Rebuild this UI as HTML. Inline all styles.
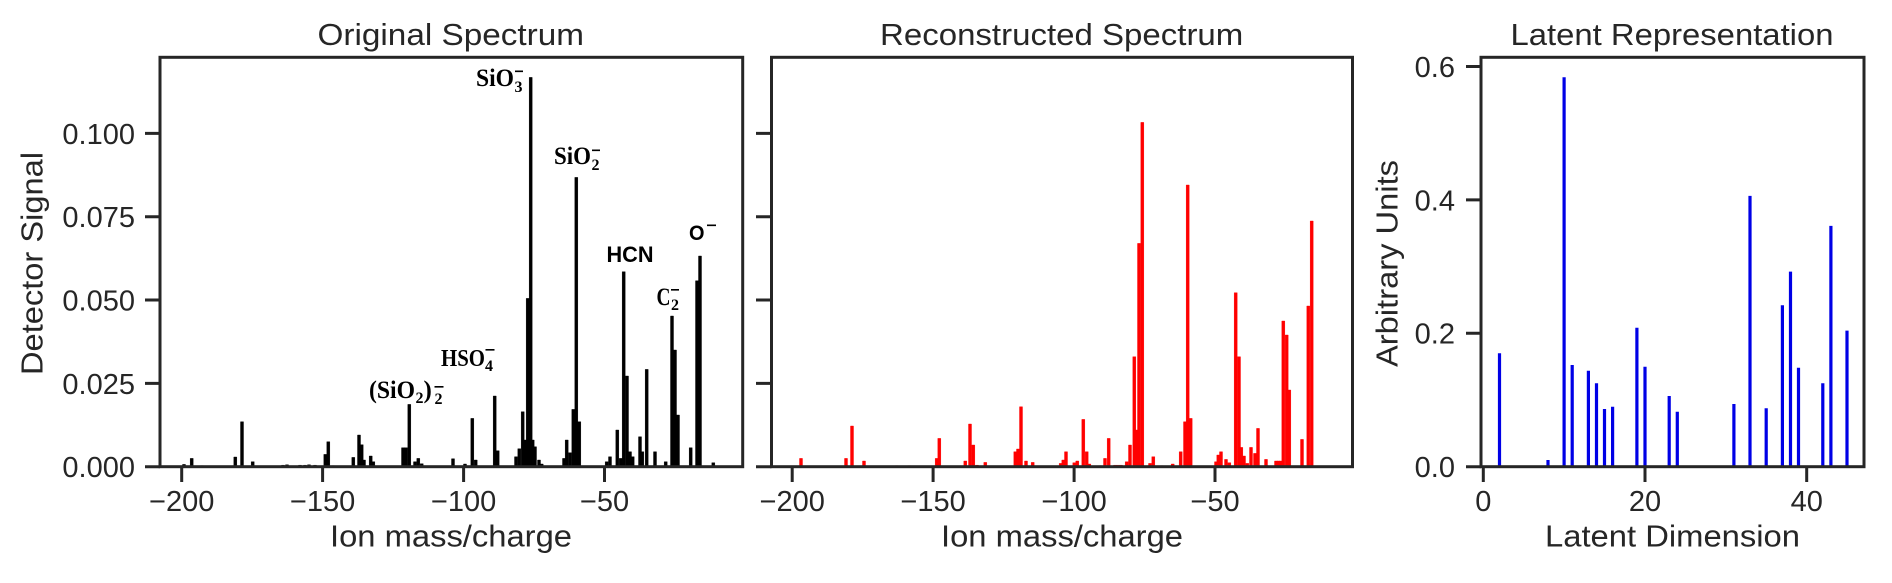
<!DOCTYPE html>
<html>
<head>
<meta charset="utf-8">
<style>
html,body{margin:0;padding:0;background:#fff;}
svg{display:block;}
.t{font-family:"Liberation Sans",Arial,sans-serif;fill:#262626;}
.s{font-family:"Liberation Serif","Times New Roman",serif;font-weight:bold;fill:#000;}
.sb{font-family:"Liberation Sans",Arial,sans-serif;font-weight:bold;fill:#000;}
</style>
</head>
<body>
<svg xmlns="http://www.w3.org/2000/svg" width="1892" height="583" viewBox="0 0 1892 583">
<rect width="1892" height="583" fill="#fff"/>

<path fill="#000" stroke="#000" stroke-width="0.4" d="M182.5 466.7v-2.3h3v2.3z M190.2 466.7v-8.3h3v8.3z M200.5 466.7v-1h3v1z M233.8 466.7v-9.7h3v9.7z M240.5 466.7v-45h3v45z M251.2 466.7v-5h3v5z M281.5 466.7v-1.5h3v1.5z M285.5 466.7v-2h3v2z M298.5 466.7v-1.5h3v1.5z M303.5 466.7v-1.5h3v1.5z M307.5 466.7v-2h3v2z M313.5 466.7v-1.5h3v1.5z M323.8 466.7v-12.3h3v12.3z M326.8 466.7v-25h3v25z M331.5 466.7v-1h3v1z M351.8 466.7v-9.3h3v9.3z M357.5 466.7v-31.7h3v31.7z M360.2 466.7v-22h3v22z M362.5 466.7v-6.7h3v6.7z M369.2 466.7v-10.7h3v10.7z M371.8 466.7v-5h3v5z M401.5 466.7v-19h3v19z M404.5 466.7v-19h3v19z M407.8 466.7v-62.3h3v62.3z M413.5 466.7v-5h3v5z M416.8 466.7v-8.3h3v8.3z M420.2 466.7v-3h3v3z M451.5 466.7v-8h3v8z M463.5 466.7v-2.7h3v2.7z M470.8 466.7v-48.3h3v48.3z M474.2 466.7v-6.7h3v6.7z M493.2 466.7v-70.7h3v70.7z M496.2 466.7v-16h3v16z M514.5 466.7v-10h3v10z M517.8 466.7v-18h3v18z M521.2 466.7v-55h3v55z M523.8 466.7v-26.7h3v26.7z M526.2 466.7v-168.3h3v168.3z M529.2 466.7v-389.3h3v389.3z M531.2 466.7v-26.7h3v26.7z M533.5 466.7v-20h3v20z M537.5 466.7v-6.7h3v6.7z M540.2 466.7v-2.7h3v2.7z M562.5 466.7v-8.3h3v8.3z M565.2 466.7v-26.7h3v26.7z M568.5 466.7v-14h3v14z M571.8 466.7v-57.3h3v57.3z M574.8 466.7v-289.3h3v289.3z M577.8 466.7v-45h3v45z M605.2 466.7v-5h3v5z M608.5 466.7v-10h3v10z M615.8 466.7v-36.7h3v36.7z M619.2 466.7v-8.3h3v8.3z M622.2 466.7v-195h3v195z M625.5 466.7v-90.7h3v90.7z M628.5 466.7v-15h3v15z M631.2 466.7v-10h3v10z M638.5 466.7v-30h3v30z M640.8 466.7v-15h3v15z M645.2 466.7v-97.3h3v97.3z M653.5 466.7v-15h3v15z M664.2 466.7v-5h3v5z M670.5 466.7v-150.7h3v150.7z M673.5 466.7v-116.7h3v116.7z M676.5 466.7v-51.7h3v51.7z M689.2 466.7v-19h3v19z M695.5 466.7v-186h3v186z M698.5 466.7v-210.7h3v210.7z M711.8 466.7v-4h3v4z"/>

<path fill="#ff0000" stroke="#ff0000" stroke-width="0.4" d="M799.5 466.7v-8.3h3v8.3z M844.5 466.7v-8.3h3v8.3z M850.5 466.7v-40.7h3v40.7z M862.5 466.7v-5.7h3v5.7z M895.2 466.7v-1h3v1z M907.8 466.7v-1h3v1z M935.2 466.7v-8.3h3v8.3z M937.8 466.7v-28.3h3v28.3z M963.8 466.7v-5.7h3v5.7z M968.5 466.7v-42.7h3v42.7z M971.8 466.7v-21.7h3v21.7z M975.5 466.7v-1.5h3v1.5z M983.8 466.7v-4.3h3v4.3z M1013.8 466.7v-15h3v15z M1016.5 466.7v-17.7h3v17.7z M1019.5 466.7v-60h3v60z M1024.5 466.7v-5.7h3v5.7z M1031.2 466.7v-4.3h3v4.3z M1059.2 466.7v-3.3h3v3.3z M1061.8 466.7v-6.7h3v6.7z M1064.5 466.7v-15h3v15z M1072.8 466.7v-4h3v4z M1075.8 466.7v-5.7h3v5.7z M1081.8 466.7v-47.3h3v47.3z M1085.2 466.7v-15h3v15z M1087.8 466.7v-2.7h3v2.7z M1098.5 466.7v-1h3v1z M1103.5 466.7v-8.3h3v8.3z M1107.2 466.7v-28.3h3v28.3z M1113.5 466.7v-1.5h3v1.5z M1116.5 466.7v-1.5h3v1.5z M1119.5 466.7v-1.5h3v1.5z M1125.2 466.7v-5h3v5z M1128.5 466.7v-21.7h3v21.7z M1132.8 466.7v-110h3v110z M1135.2 466.7v-36.7h3v36.7z M1137.5 466.7v-223.3h3v223.3z M1140.8 466.7v-344.3h3v344.3z M1148.5 466.7v-3.3h3v3.3z M1151.8 466.7v-10h3v10z M1160.2 466.7v-1h3v1z M1171.2 466.7v-2.7h3v2.7z M1179.2 466.7v-15h3v15z M1183.5 466.7v-45h3v45z M1186.2 466.7v-281.7h3v281.7z M1189.2 466.7v-48.3h3v48.3z M1214.5 466.7v-5h3v5z M1216.8 466.7v-11.7h3v11.7z M1219.5 466.7v-15h3v15z M1224.5 466.7v-7.3h3v7.3z M1227.8 466.7v-4h3v4z M1234.2 466.7v-174h3v174z M1237.5 466.7v-110h3v110z M1239.8 466.7v-19.3h3v19.3z M1242.5 466.7v-10.7h3v10.7z M1245.8 466.7v-3.3h3v3.3z M1249.5 466.7v-19.3h3v19.3z M1253.5 466.7v-13.3h3v13.3z M1256.5 466.7v-38.3h3v38.3z M1264.5 466.7v-7.3h3v7.3z M1274.5 466.7v-5.7h3v5.7z M1277 466.7v-5.7h3v5.7z M1279.5 466.7v-5.7h3v5.7z M1281.8 466.7v-145.7h3v145.7z M1285.2 466.7v-131.7h3v131.7z M1287.8 466.7v-76.7h3v76.7z M1300.5 466.7v-27.3h3v27.3z M1306.8 466.7v-160.7h3v160.7z M1310.2 466.7v-245.7h3v245.7z"/>

<path fill="#0000e6" d="M1497.9 466.7v-113.4h3.2v113.4z M1546.4 466.7v-6.7h3.2v6.7z M1562.5 466.7v-389.5h3.2v389.5z M1570.6 466.7v-101.7h3.2v101.7z M1586.8 466.7v-96h3.2v96z M1594.9 466.7v-83.4h3.2v83.4z M1602.9 466.7v-57.7h3.2v57.7z M1611 466.7v-60h3.2v60z M1635.3 466.7v-139h3.2v139z M1643.4 466.7v-100h3.2v100z M1667.6 466.7v-70.7h3.2v70.7z M1675.7 466.7v-55h3.2v55z M1732.3 466.7v-62.7h3.2v62.7z M1748.4 466.7v-270.8h3.2v270.8z M1764.6 466.7v-58.4h3.2v58.4z M1780.8 466.7v-161.4h3.2v161.4z M1788.9 466.7v-195.1h3.2v195.1z M1796.9 466.7v-99h3.2v99z M1821.2 466.7v-83.4h3.2v83.4z M1829.3 466.7v-240.8h3.2v240.8z M1845.4 466.7v-136.1h3.2v136.1z"/>

<g fill="none" stroke="#262626" stroke-width="3">
<rect x="160" y="57.3" width="582.7" height="409.4"/>
<rect x="771.5" y="57.3" width="581" height="409.4"/>
<rect x="1481" y="57.3" width="383" height="409.4"/>
</g>

<path fill="none" stroke="#262626" stroke-width="3" d="M145 466.7h15 M145 383.4h15 M145 300h15 M145 216.7h15 M145 133.4h15 M181.7 466.7v15.3 M322.6 466.7v15.3 M463.6 466.7v15.3 M604.5 466.7v15.3 M756 466.7h15.5 M756 383.4h15.5 M756 300h15.5 M756 216.7h15.5 M756 133.4h15.5 M792.2 466.7v15.3 M933.1 466.7v15.3 M1074.1 466.7v15.3 M1215 466.7v15.3 M1466 466.7h15 M1466 333.3h15 M1466 199.9h15 M1466 66.5h15 M1483.3 466.7v15.3 M1645 466.7v15.3 M1806.7 466.7v15.3"/>

<g class="t" font-size="29" text-anchor="end">
<text x="135" y="477.1">0.000</text>
<text x="135" y="393.8">0.025</text>
<text x="135" y="310.4">0.050</text>
<text x="135" y="227.1">0.075</text>
<text x="135" y="143.8">0.100</text>
<text x="1455" y="477.1">0.0</text>
<text x="1455" y="343.7">0.2</text>
<text x="1455" y="210.3">0.4</text>
<text x="1455" y="76.9">0.6</text>
</g>
<g class="t" font-size="29" text-anchor="middle">
<text x="181.7" y="511">−200</text>
<text x="322.6" y="511">−150</text>
<text x="463.6" y="511">−100</text>
<text x="604.5" y="511">−50</text>
<text x="792.2" y="511">−200</text>
<text x="933.1" y="511">−150</text>
<text x="1074.1" y="511">−100</text>
<text x="1215" y="511">−50</text>
<text x="1483.3" y="511">0</text>
<text x="1645" y="511">20</text>
<text x="1806.7" y="511">40</text>
</g>

<g class="t" font-size="31">
<text x="317.5" y="45" textLength="266.5" lengthAdjust="spacingAndGlyphs">Original Spectrum</text>
<text x="880" y="45" textLength="363.3" lengthAdjust="spacingAndGlyphs">Reconstructed Spectrum</text>
<text x="1510.5" y="45" textLength="323" lengthAdjust="spacingAndGlyphs">Latent Representation</text>
<text x="330" y="546.5" textLength="242" lengthAdjust="spacingAndGlyphs">Ion mass/charge</text>
<text x="941" y="546.5" textLength="242" lengthAdjust="spacingAndGlyphs">Ion mass/charge</text>
<text x="1545" y="546.5" textLength="255" lengthAdjust="spacingAndGlyphs">Latent Dimension</text>
<text transform="translate(42.5,375) rotate(-90)" textLength="223" lengthAdjust="spacingAndGlyphs">Detector Signal</text>
<text transform="translate(1397.5,367) rotate(-90)" textLength="207" lengthAdjust="spacingAndGlyphs">Arbitrary Units</text>
</g>

<text class="s" x="476" y="86" font-size="25" textLength="38" lengthAdjust="spacingAndGlyphs">SiO</text>
<text class="s" x="514.5" y="92" font-size="16">3</text>
<text class="s" x="554" y="164" font-size="25" textLength="37" lengthAdjust="spacingAndGlyphs">SiO</text>
<text class="s" x="591.5" y="170" font-size="16">2</text>
<text class="sb" x="606.5" y="262" font-size="22" textLength="47" lengthAdjust="spacingAndGlyphs">HCN</text>
<text class="s" x="656.5" y="305" font-size="25" textLength="14" lengthAdjust="spacingAndGlyphs">C</text>
<text class="s" x="671" y="310" font-size="16">2</text>
<text class="sb" x="689" y="240" font-size="21" textLength="15.5" lengthAdjust="spacingAndGlyphs">O</text>
<text class="s" x="441" y="366" font-size="24" textLength="44" lengthAdjust="spacingAndGlyphs">HSO</text>
<text class="s" x="485" y="371" font-size="16">4</text>
<text class="s" x="369" y="398" font-size="25" textLength="46" lengthAdjust="spacingAndGlyphs">(SiO</text>
<text class="s" x="415.5" y="403" font-size="16">2</text>
<text class="s" x="423.5" y="398" font-size="25" font-weight="normal">)</text>
<text class="s" x="434.5" y="404" font-size="16">2</text>
<path fill="#000" d="M515 70.5h8v1.6h-8z M592 149.5h8v1.6h-8z M671 289h8v1.6h-8z M707 224.5h9v1.6h-9z M485.5 349h9v1.6h-9z M434.5 386h9v1.6h-9z"/>
</svg>
</body>
</html>
